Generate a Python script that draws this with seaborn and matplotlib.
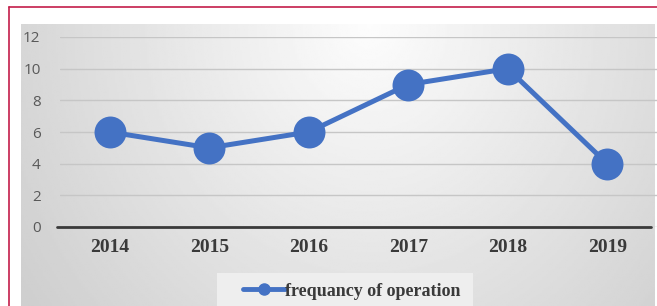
import numpy as np
import pandas as pd
import seaborn as sns
import matplotlib.pyplot as plt
from matplotlib.lines import Line2D
from matplotlib.patches import Rectangle

years = ['2014', '2015', '2016', '2017', '2018', '2019']
freq = [6, 5, 6, 9, 10, 4]
y_ticks = [0, 2, 4, 6, 8, 10, 12]
series_name = 'frequancy of operation'

df = pd.DataFrame({'year': years, 'freq': freq})

W, H = 657, 306
blue = '#4472C4'

sns.set_style('white')
fig = plt.figure(figsize=(W / 100, H / 100), dpi=100)
fig.patch.set_facecolor('white')

# red frame (left and top edges visible)
fig.add_artist(Line2D([9 / W, 9 / W], [0, 1 - 7 / H], color='#C41E4A', lw=1.2))
fig.add_artist(Line2D([9 / W, 1], [1 - 7 / H, 1 - 7 / H], color='#C41E4A', lw=1.2))

# gradient grey chart area
bg = fig.add_axes([21 / W, 0, (655 - 21) / W, 1 - 24 / H])
gx, gy = np.meshgrid(np.linspace(0, 1, 300), np.linspace(0, 1, 200))
dist = np.sqrt(((gx - 0.55) * 1.0) ** 2 + ((gy - 0.0) * 0.4) ** 2)
shade = np.clip(0.99 - 0.27 * dist, 0.81, 1.0)
bg.imshow(shade, cmap='gray', vmin=0, vmax=1, aspect='auto', extent=[0, 1, 1, 0])
bg.axis('off')

# legend box
fig.add_artist(Rectangle((217 / W, 0), (473 - 217) / W, (306 - 273) / H,
                         transform=fig.transFigure, facecolor='#EEEEEE',
                         edgecolor='none'))

ax = fig.add_axes([60 / W, 1 - 227 / H, 597 / W, 190 / H])
ax.patch.set_alpha(0)
ax.set_axisbelow(True)
sns.lineplot(data=df, x='year', y='freq', ax=ax, color=blue, lw=3.6,
             marker='o', markersize=23, markeredgewidth=0, clip_on=False,
             sort=False)

ax.set_xlim(-0.5, 5.5)
ax.set_ylim(0, 12)
ax.set_yticks(y_ticks)
ax.set_yticklabels([str(t) for t in y_ticks])
ax.yaxis.grid(True, color='#C6C6C6', lw=1)
ax.axhline(0, xmin=-0.005, xmax=0.99, color='#3A3A3A', lw=2, clip_on=False)
for s in ax.spines.values():
    s.set_visible(False)
ax.set_xlabel('')
ax.set_ylabel('')
ax.tick_params(axis='y', length=0, pad=14, labelsize=11, labelcolor='#595959')
ax.tick_params(axis='x', length=0, pad=9)
for lab in ax.get_yticklabels():
    lab.set_fontfamily('Open Sans')
for lab in ax.get_xticklabels():
    lab.set_fontfamily('Liberation Serif')
    lab.set_fontweight('bold')
    lab.set_fontsize(14)
    lab.set_color('#3A3A3A')

handle = Line2D([], [], color=blue, lw=3.5, marker='o', markersize=8)
fig.legend([handle], [series_name], loc='center', frameon=False,
           bbox_to_anchor=(352 / W, 1 - 291 / H), handlelength=2.3,
           handletextpad=0.05,
           prop={'family': 'Liberation Serif', 'weight': 'bold', 'size': 13})
for t in fig.legends[0].get_texts():
    t.set_color('#3A3A3A')

fig.savefig('out.png', dpi=100)
